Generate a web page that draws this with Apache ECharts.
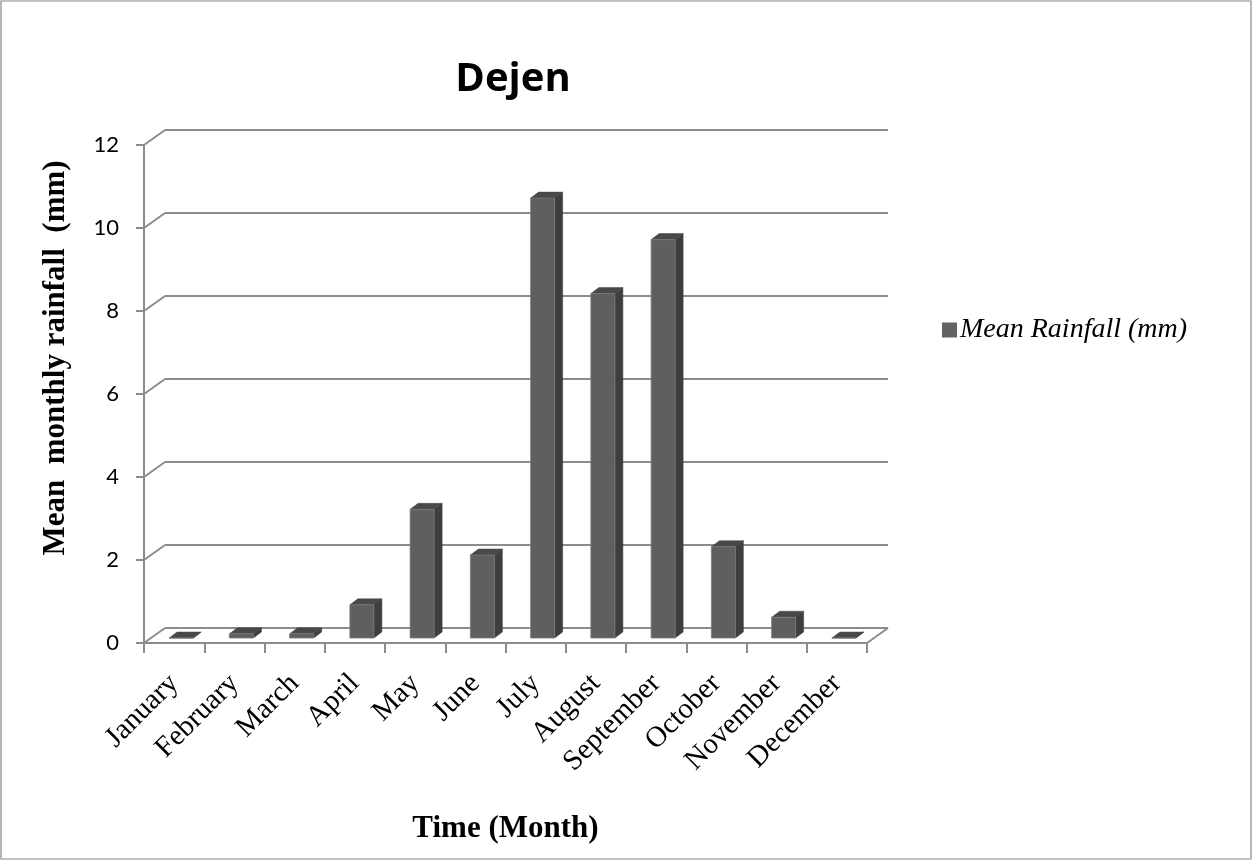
<!DOCTYPE html>
<html>
<head>
<meta charset="utf-8">
<script src="https://cdn.jsdelivr.net/npm/echarts@6/dist/echarts.min.js"></script>
<style>html,body{margin:0;padding:0;background:#fff}#c{width:1253px;height:862px}</style>
</head>
<body>
<div id="c"></div>
<script>
var months = ['January','February','March','April','May','June','July','August','September','October','November','December'];
var rainfall = [0, 0.1, 0.1, 0.8, 3.1, 2.0, 10.6, 8.3, 9.6, 2.2, 0.5, 0];
var yTicks = [0, 2, 4, 6, 8, 10, 12];
var seriesName = 'Mean Rainfall (mm)';

var DX = 21, DY = -15;          // perspective offset front -> back wall
var GRID_COLOR = '#8c8c8c';

var chart = echarts.init(document.getElementById('c'), null, {renderer: 'canvas'});

function barItem(params, api) {
  var c0 = api.coord([api.value(0), 0]);
  var c1 = api.coord([api.value(0), api.value(1)]);
  var ox = DX / 3, oy = DY / 3;
  var w = 24, sx = 8, sy = -6;
  var xl = c0[0] - 12 + ox;
  var yb = c0[1] + oy;
  var yt = c1[1] + oy;
  var xr = xl + w;
  return {
    type: 'group',
    children: [
      {type: 'polygon', shape: {points: [[xr, yb], [xr + sx, yb + sy], [xr + sx, yt + sy], [xr, yt]]},
        style: {fill: '#3e3e3e', stroke: '#3a3a3a', lineWidth: 0.5}},
      {type: 'polygon', shape: {points: [[xl, yt], [xr, yt], [xr + sx, yt + sy], [xl + sx, yt + sy]]},
        style: {fill: '#494949', stroke: '#444', lineWidth: 0.5}},
      {type: 'rect', shape: {x: xl, y: yt, width: w, height: Math.max(yb - yt, 0)},
        style: {fill: '#5f5f5f', stroke: '#7a7a7a', lineWidth: 0.8}}
    ]
  };
}

function frameItem(params, api) {
  var cs = params.coordSys;
  var v = api.value(0);
  var y = api.coord([0, v])[1];
  var children = [
    {type: 'line', shape: {x1: cs.x, y1: y, x2: cs.x + DX, y2: y + DY},
      style: {stroke: GRID_COLOR, lineWidth: 2}}
  ];
  if (v === 0) {
    children.push({type: 'line', shape: {x1: cs.x + cs.width, y1: y, x2: cs.x + cs.width + DX, y2: y + DY},
      style: {stroke: GRID_COLOR, lineWidth: 2}});
  }
  return {type: 'group', children: children};
}

var option = {
  animation: false,
  backgroundColor: '#fff',
  title: {
    text: 'Dejen', left: 508, top: 55, textAlign: 'center',
    textStyle: {fontFamily: 'Open Sans', fontWeight: 'bold', fontSize: 40, color: '#000'}
  },
  legend: {
    data: [{name: seriesName, icon: 'rect'}],
    left: 937, top: 311, itemWidth: 15, itemHeight: 15,
    itemStyle: {color: '#636363'},
    textStyle: {fontFamily: 'Liberation Serif', fontStyle: 'italic', fontSize: 28, color: '#000', padding: [0, 0, 0, -2]}
  },
  grid: [
    {left: 144, top: 145, width: 723, height: 498},
    {left: 165, top: 130, width: 723, height: 498}
  ],
  xAxis: [
    {type: 'category', gridIndex: 0, data: months, boundaryGap: true,
      axisLine: {show: true, lineStyle: {color: GRID_COLOR, width: 2}},
      axisTick: {show: true, length: 10, lineStyle: {color: GRID_COLOR, width: 2}},
      axisLabel: {rotate: 45, margin: 36, interval: 0, fontFamily: 'Liberation Serif', fontSize: 29, color: '#000'},
      name: 'Time (Month)', nameLocation: 'middle', nameGap: 170,
      nameTextStyle: {fontFamily: 'Liberation Serif', fontWeight: 'bold', fontSize: 31, color: '#000'}
    },
    {type: 'category', gridIndex: 1, data: months, show: false}
  ],
  yAxis: [
    {type: 'value', gridIndex: 0, min: 0, max: 12, interval: 2,
      axisLine: {show: true, lineStyle: {color: GRID_COLOR, width: 2}},
      axisTick: {show: true, length: 8, lineStyle: {color: GRID_COLOR, width: 2}},
      splitLine: {show: false},
      axisLabel: {margin: 25, fontFamily: 'Lato', fontSize: 22, color: '#000'}
    },
    {type: 'value', gridIndex: 1, min: 0, max: 12, interval: 2,
      axisLine: {show: false}, axisTick: {show: false}, axisLabel: {show: false},
      splitLine: {show: true, lineStyle: {color: GRID_COLOR, width: 2}}
    }
  ],
  graphic: [
    {type: 'rect', shape: {x: 1, y: 1, width: 1250, height: 858},
      style: {fill: 'none', stroke: '#868686', lineWidth: 1.2}, silent: true, z: -1},
    {type: 'text', x: 56, y: 358, rotation: Math.PI / 2,
      style: {text: 'Mean  monthly rainfall  (mm)', textAlign: 'center', textVerticalAlign: 'middle',
        font: 'bold 31px "Liberation Serif"', fill: '#000'}}
  ],
  series: [
    {type: 'custom', name: 'frame', xAxisIndex: 0, yAxisIndex: 0, silent: true,
      data: yTicks.map(function (v) { return [v]; }),
      encode: {y: 0}, renderItem: frameItem, z: 1},
    {type: 'custom', name: seriesName, xAxisIndex: 0, yAxisIndex: 0,
      itemStyle: {color: '#636363'},
      data: rainfall.map(function (v, i) { return [i, v]; }),
      encode: {x: 0, y: 1}, renderItem: barItem, z: 3}
  ]
};
chart.setOption(option);
</script>
</body>
</html>
